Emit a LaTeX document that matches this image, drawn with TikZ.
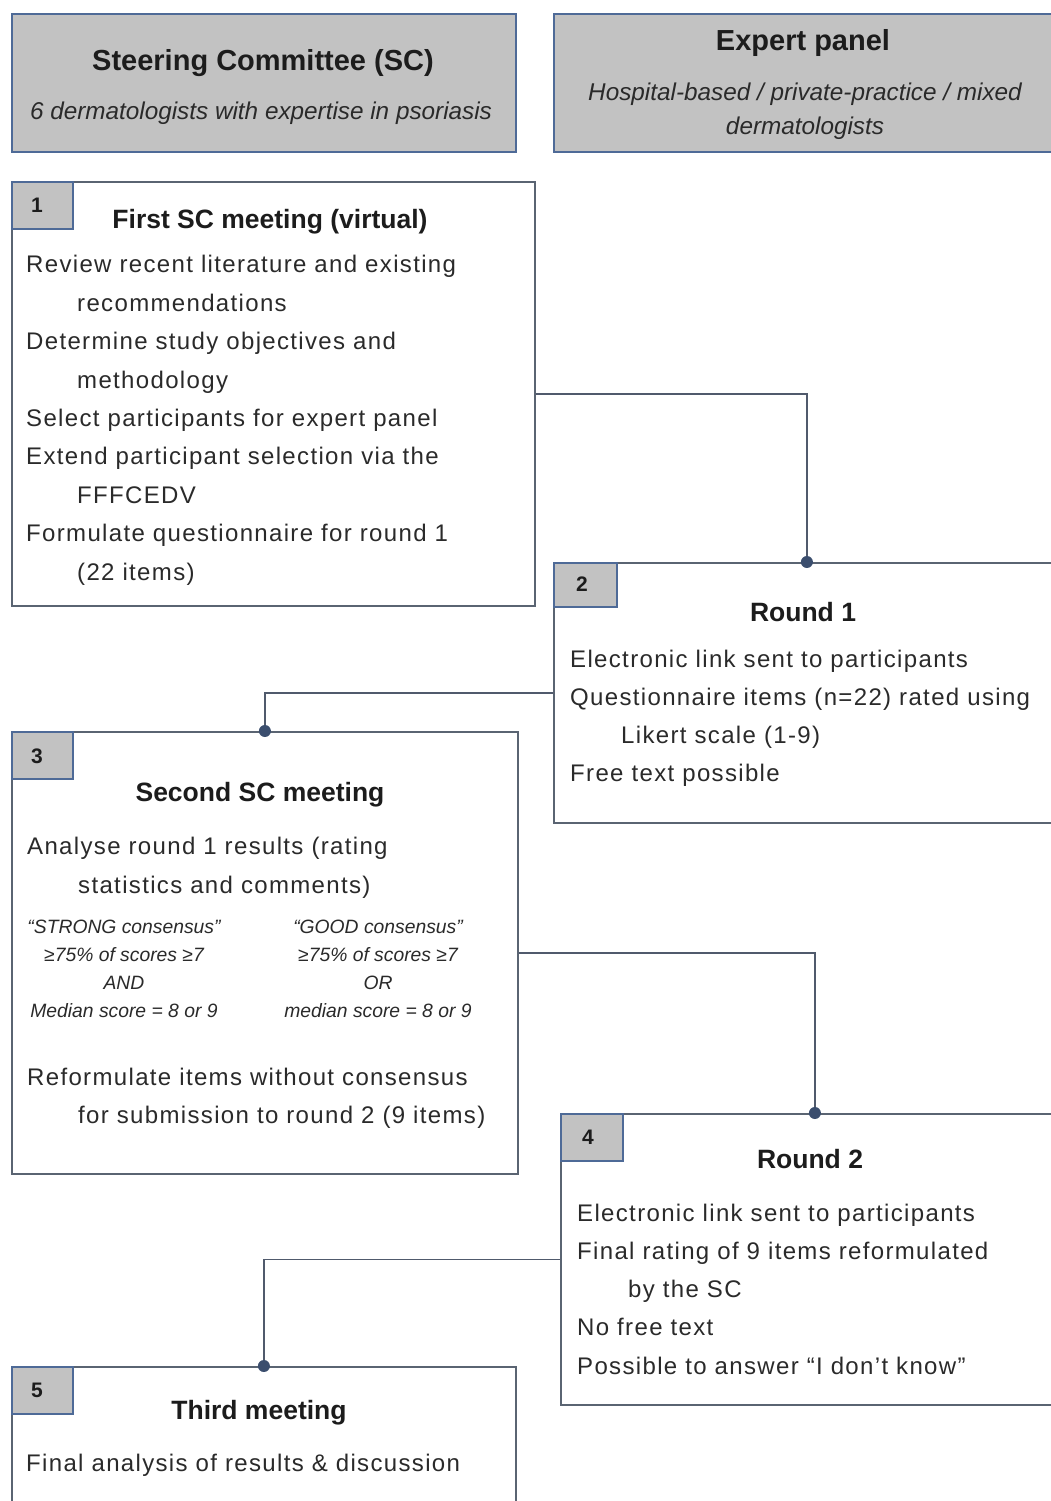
\documentclass[tikz,border=0pt]{standalone}
\usepackage{fontspec}
\setmainfont{Liberation Sans}
\newfontfamily\bodyfont[LetterSpace=5.6]{Liberation Sans}
\usetikzlibrary{calc}
\definecolor{boxgray}{HTML}{C2C2C2}
\definecolor{hdrline}{HTML}{4E6A97}
\definecolor{boxline}{HTML}{5A6472}
\definecolor{connline}{HTML}{505A6C}
\definecolor{dotcol}{HTML}{3B4E6E}
\definecolor{txt}{HTML}{1C1C1C}
\definecolor{bodytxt}{HTML}{2A2A2A}
\begin{document}
\begin{tikzpicture}[x=1pt,y=-1pt,
  hdrbox/.style={draw=hdrline, fill=boxgray, line width=1.8pt, anchor=north west, inner sep=0},
  mainbox/.style={draw=boxline, fill=white, line width=1.8pt, anchor=north west, inner sep=0},
  numbox/.style={draw=hdrline, fill=boxgray, line width=1.5pt, anchor=north west, inner sep=0},
  numtxt/.style={font=\fontsize{21pt}{24pt}\selectfont\bfseries, text=txt, inner sep=0, anchor=center},
  hdrtitle/.style={font=\fontsize{29pt}{34pt}\selectfont\bfseries, text=txt, inner sep=0, anchor=base},
  hdrsub/.style={font=\fontsize{24.3pt}{34pt}\selectfont\itshape, text=bodytxt, inner sep=0, anchor=base, align=center},
  boxtitle/.style={font=\fontsize{26.5pt}{30pt}\selectfont\bfseries, text=txt, inner sep=0, anchor=base},
  bodytext/.style={font=\bodyfont\fontsize{24pt}{#1}\selectfont, text=bodytxt, inner sep=0, anchor=base west, align=left},
  constext/.style={font=\fontsize{19.3pt}{27.7pt}\selectfont\itshape, text=bodytxt, inner sep=0, anchor=base, align=center},
  conn/.style={draw=connline, line width=1.8pt},
  dotmark/.style={fill=dotcol}
]
\useasboundingbox (0,0) rectangle (1051,1501);
\fill[white] (0,0) rectangle (1051,1501);

% header boxes
\node[hdrbox, minimum width=504pt, minimum height=138pt] (sc) at (11,13) {};
\node[hdrtitle] (sct) at (263,71) {Steering Committee (SC)};
\node[hdrsub] (scs) at (261,120) {6 dermatologists with expertise in psoriasis};

\node[hdrbox, minimum width=510pt, minimum height=138pt] (ep) at (553,13) {};
\node[hdrtitle] (ept) at (803,51) {Expert panel};
\node[hdrsub] (eps) at (805,135) {Hospital-based / private-practice / mixed\\dermatologists};

% main boxes
\node[mainbox, minimum width=523pt, minimum height=424pt] (box1) at (11,181) {};
\node[mainbox, minimum width=506pt, minimum height=260pt] (box2) at (553,562) {};
\node[mainbox, minimum width=506pt, minimum height=442pt] (box3) at (11,731) {};
\node[mainbox, minimum width=503pt, minimum height=291pt] (box4) at (560,1113) {};
\node[mainbox, minimum width=504pt, minimum height=160pt] (box5) at (11,1366) {};

% number boxes
\node[numbox, minimum width=61pt, minimum height=47pt] (n1) at (11,181) {};
\node[numtxt] (n1t) at (37,205) {1};
\node[numbox, minimum width=63pt, minimum height=44pt] (n2) at (553,562) {};
\node[numtxt] (n2t) at (582,584) {2};
\node[numbox, minimum width=61pt, minimum height=47pt] (n3) at (11,731) {};
\node[numtxt] (n3t) at (37,756) {3};
\node[numbox, minimum width=62pt, minimum height=47pt] (n4) at (560,1113) {};
\node[numtxt] (n4t) at (588,1137) {4};
\node[numbox, minimum width=61pt, minimum height=47pt] (n5) at (11,1366) {};
\node[numtxt] (n5t) at (37,1390) {5};

% titles
\node[boxtitle] (t1) at (270,228) {First SC meeting (virtual)};
\node[boxtitle] (t2) at (803,621) {Round 1};
\node[boxtitle] (t3) at (260,801) {Second SC meeting};
\node[boxtitle] (t4) at (810,1168) {Round 2};
\node[boxtitle] (t5) at (259,1419) {Third meeting};

% bodies (anchor: baseline of the last line)
\node[bodytext=38.4pt] (b1) at (26,580) {Review recent literature and existing\\
\hspace*{51pt}recommendations\\
Determine study objectives and\\
\hspace*{51pt}methodology\\
Select participants for expert panel\\
Extend participant selection via the\\
\hspace*{51pt}FFFCEDV\\
Formulate questionnaire for round 1\\
\hspace*{51pt}(22 items)};

\node[bodytext=38pt] (b2) at (570,781) {Electronic link sent to participants\\
Questionnaire items (n=22) rated using\\
\hspace*{51pt}Likert scale (1-9)\\
Free text possible};

\node[bodytext=39pt] (b3a) at (27,893) {Analyse round 1 results (rating\\
\hspace*{51pt}statistics and comments)};
\node[constext] (c3l) at (124,1017) {“STRONG consensus”\\≥75\%  of scores ≥7\\AND\\Median  score = 8 or 9};
\node[constext] (c3r) at (378,1017) {“GOOD consensus”\\≥75\%  of scores ≥7\\OR\\median  score = 8 or 9};
\node[bodytext=38pt] (b3b) at (27,1123) {Reformulate items without consensus\\
\hspace*{51pt}for submission to round 2 (9 items)};

\node[bodytext=38.25pt] (b4) at (577,1374) {Electronic link sent to participants\\
Final rating of 9 items reformulated\\
\hspace*{51pt}by the SC\\
No free text\\
Possible to answer “I don’t know”};

\node[bodytext=38pt] (b5) at (26,1471) {Final analysis of results \& discussion};

% connectors
\draw[conn] (box1.east) -| (box2.north);
\fill[dotmark] (box2.north) circle (6pt);
\draw[conn] (box2.west) -| (box3.north);
\fill[dotmark] (box3.north) circle (6pt);
\draw[conn] (box3.east) -| ([xshift=2.5pt]box4.north);
\fill[dotmark] ([xshift=2.5pt]box4.north) circle (6pt);
\draw[conn] (box4.west) -| (box5.north);
\fill[dotmark] (box5.north) circle (6pt);
\end{tikzpicture}
\end{document}
